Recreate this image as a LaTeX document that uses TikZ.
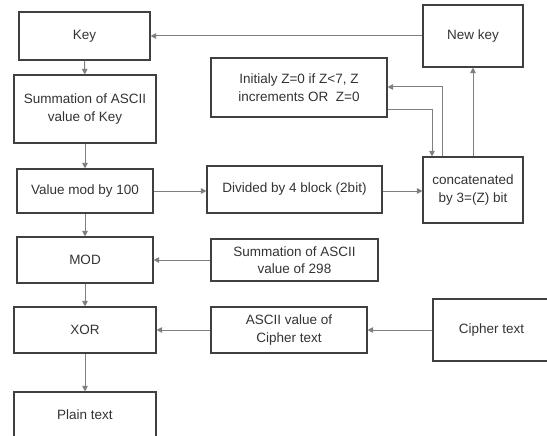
\documentclass[tikz,border=0pt]{standalone}
\usepackage{fontspec}
\setmainfont{Liberation Sans}
\usepackage{tikz}
\usetikzlibrary{calc}
\usetikzlibrary{shapes,arrows,arrows.meta,positioning}

\definecolor{boxline}{HTML}{404040}
\definecolor{arrline}{HTML}{7F7F7F}
\definecolor{txt}{HTML}{333333}

\begin{document}
\begin{tikzpicture}[x=1pt, y=1pt, font=\fontsize{13.5}{17.5}\selectfont]
    % Define block styles
    \tikzstyle{process} = [rectangle, inner sep=2pt, text centered, align=center, draw=boxline, line width=1.1pt, text=txt]
    \tikzstyle{arrow} = [line width=1pt, draw=arrline, ->, >={Triangle[length=5.5pt,width=5.5pt]}]

    \useasboundingbox (0,0) rectangle (547,-436);

    % Nodes
    \node (key) [process, minimum width=131, minimum height=48] at (84.5,-36) {Key};
    \node (sumkey) [process, minimum width=142, minimum height=68] at (85,-109) {Summation of ASCII\\value of Key};
    \node (valmod) [process, minimum width=136, minimum height=44] at (85,-191) {Value mod by 100};
    \node (modbox) [process, minimum width=136, minimum height=46] at (85,-260) {MOD};
    \node (xor) [process, minimum width=142, minimum height=46] at (85,-330) {XOR};
    \node (plain) [process, minimum width=142, minimum height=46] at (85,-415) {Plain text};

    \node (divided) [process, minimum width=175, minimum height=47] at (294.5,-189.5) {Divided by 4 block (2bit)};
    \node (initz) [process, minimum width=176, minimum height=59] at (299,-87.5) {Initialy Z=0 if Z<7, Z\\increments OR\ \ Z=0};
    \node (sumtwo) [process, minimum width=167, minimum height=42] at (294.5,-260) {Summation of ASCII\\value of 298};
    \node (asciicipher) [process, minimum width=156, minimum height=46] at (289,-330) {ASCII value of\\Cipher text};

    \node (newkey) [process, minimum width=100, minimum height=62] at (473,-36) {New key};
    \node (concat) [process, minimum width=100, minimum height=66] at (473,-190) {concatenated\\by 3=(Z) bit};
    \node (cipher) [process, minimum width=117, minimum height=62] at (491.5,-330) {Cipher text};

    % Arrows between nodes
    \draw [arrow] (key) -- (sumkey);
    \draw [arrow] (sumkey) -- (valmod);
    \draw [arrow] (valmod) -- (modbox);
    \draw [arrow] (modbox) -- (xor);
    \draw [arrow] (xor) -- (plain);
    \draw [arrow] (valmod.east) -- (valmod.east -| divided.west);
    \draw [arrow] (divided.east |- valmod.east) -- (valmod.east -| concat.west);
    \draw [arrow] (concat) -- (newkey);
    \draw [arrow] (newkey) -- (key);
    \draw [arrow] ($(concat.north)+(-31,0)$) |- ($(initz.east)+(0,0.5)$);
    \draw [arrow] ($(initz.east)+(0,-22.5)$) -| ($(concat.north)+(-41,0)$);
    \draw [arrow] (sumtwo) -- (modbox);
    \draw [arrow] (cipher) -- (asciicipher);
    \draw [arrow] (asciicipher) -- (xor);
\end{tikzpicture}
\end{document}
